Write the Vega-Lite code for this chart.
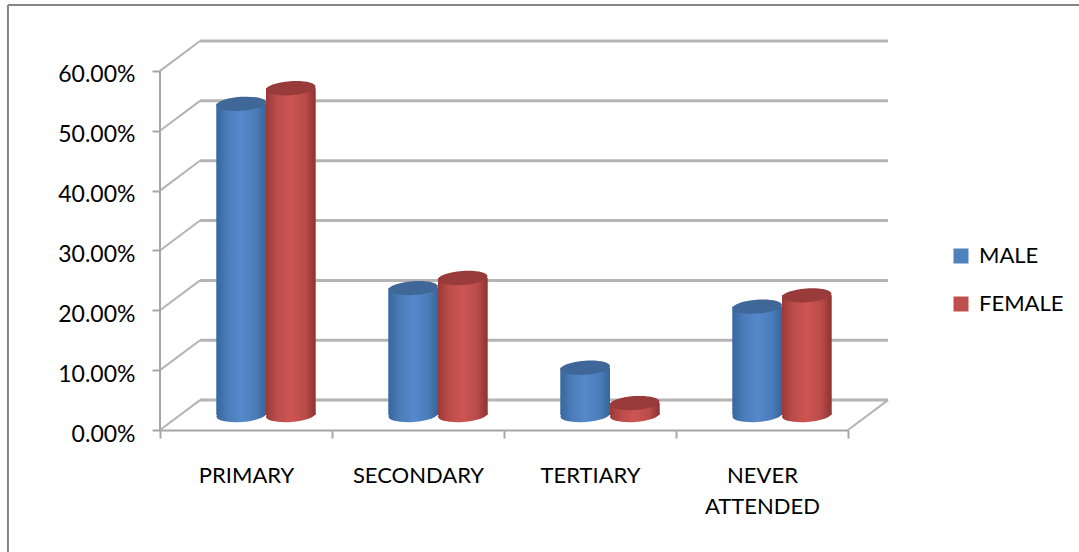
{
  "$schema": "https://vega.github.io/schema/vega-lite/v6.json",
  "width": 728,
  "height": 389,
  "autosize": "none",
  "padding": {"left": 160, "top": 41, "right": 191, "bottom": 122},
  "background": "white",
  "view": {"stroke": null},
  "config": {"font": "Lato", "axis": {"grid": false}},
  "datasets": {
    "schooling": [
      {"level": "PRIMARY", "sex": "MALE", "share": 0.52},
      {"level": "PRIMARY", "sex": "FEMALE", "share": 0.546},
      {"level": "SECONDARY", "sex": "MALE", "share": 0.212},
      {"level": "SECONDARY", "sex": "FEMALE", "share": 0.229},
      {"level": "TERTIARY", "sex": "MALE", "share": 0.079},
      {"level": "TERTIARY", "sex": "FEMALE", "share": 0.02},
      {"level": "NEVER ATTENDED", "sex": "MALE", "share": 0.181},
      {"level": "NEVER ATTENDED", "sex": "FEMALE", "share": 0.2}
    ],
    "walls": [
      {"front": 0, "back": 0.05},
      {"front": 0.1, "back": 0.15},
      {"front": 0.2, "back": 0.25},
      {"front": 0.3, "back": 0.35},
      {"front": 0.4, "back": 0.45},
      {"front": 0.5, "back": 0.55},
      {"front": 0.6, "back": 0.65}
    ],
    "one": [{}]
  },
  "resolve": {"scale": {"x": "independent", "y": "independent"}},
  "layer": [
    {
      "description": "Chart frame, back wall grid, side wall diagonals and floor edge, on the front plane's scales",
      "layer": [
        {
          "data": {"name": "one"},
          "mark": {"type": "rule", "color": "#868686", "strokeWidth": 2},
          "encoding": {
            "x": {"datum": -0.884, "type": "quantitative", "scale": {"domain": [0, 4.2326], "range": [0, 728], "nice": false, "zero": false}, "axis": null},
            "y": {
              "datum": 0.71,
              "type": "quantitative",
              "scale": {"domain": [0, 0.65], "nice": false},
              "axis": {
                "title": null,
                "values": [0, 0.1, 0.2, 0.3, 0.4, 0.5, 0.6],
                "format": ".2%",
                "domain": false,
                "tickColor": "#a6a6a6",
                "tickWidth": 2,
                "tickSize": 8,
                "labelFontSize": 23,
                "labelColor": "#000000",
                "labelPadding": 17,
                "labelOffset": 4
              }
            },
            "y2": {"datum": -0.204}
          }
        },
        {
          "data": {"name": "one"},
          "mark": {"type": "rule", "color": "#868686", "strokeWidth": 2},
          "encoding": {
            "x": {"datum": -0.884, "type": "quantitative"},
            "x2": {"datum": 5.343},
            "y": {"datum": 0.71, "type": "quantitative"}
          }
        },
        {
          "data": {"name": "walls"},
          "mark": {"type": "rule", "color": "#b4b4b4", "strokeWidth": 3},
          "encoding": {
            "x": {"datum": 0.2326, "type": "quantitative"},
            "x2": {"datum": 4.2326},
            "y": {"field": "back", "type": "quantitative"}
          }
        },
        {
          "data": {"name": "walls"},
          "mark": {"type": "rule", "color": "#b4b4b4", "strokeWidth": 2},
          "encoding": {
            "x": {"datum": 0, "type": "quantitative"},
            "x2": {"datum": 0.2326},
            "y": {"field": "front", "type": "quantitative"},
            "y2": {"field": "back"}
          }
        },
        {
          "data": {"name": "one"},
          "mark": {"type": "rule", "color": "#b4b4b4", "strokeWidth": 2},
          "encoding": {
            "x": {"datum": 4, "type": "quantitative"},
            "x2": {"datum": 4.2326},
            "y": {"datum": 0, "type": "quantitative"},
            "y2": {"datum": 0.05}
          }
        },
        {
          "data": {"name": "one"},
          "mark": {"type": "rule", "color": "#a6a6a6", "strokeWidth": 2},
          "encoding": {
            "x": {"datum": 0, "type": "quantitative"},
            "y": {"datum": 0, "type": "quantitative"},
            "y2": {"datum": 0.6}
          }
        }
      ]
    },
    {
      "description": "Cylinders stand mid-depth, so their value scale sits 15px above the front plane; a flat base carries the legend, shaded bodies and caps sit on top",
      "data": {"name": "schooling"},
      "encoding": {
        "x": {
          "field": "level",
          "type": "nominal",
          "sort": ["PRIMARY", "SECONDARY", "TERTIARY", "NEVER ATTENDED"],
          "scale": {"range": [0, 688], "paddingInner": 0, "paddingOuter": 0},
          "axis": {
            "title": null,
            "orient": "bottom",
            "tickBand": "extent",
            "tickColor": "#a6a6a6",
            "tickWidth": 2,
            "tickSize": 8,
            "domainColor": "#a6a6a6",
            "domainWidth": 2,
            "labelAngle": 0,
            "labelFontSize": 22,
            "labelColor": "#000000",
            "labelPadding": 27,
            "labelLineHeight": 31,
            "labelBaseline": "top",
            "labelExpr": "datum.label == 'NEVER ATTENDED' ? ['NEVER', 'ATTENDED'] : datum.label"
          }
        },
        "xOffset": {
          "field": "sex",
          "type": "nominal",
          "sort": ["MALE", "FEMALE"],
          "scale": {"range": [56.5, 155.5], "paddingInner": 0, "paddingOuter": 0}
        },
        "y": {
          "field": "share",
          "type": "quantitative",
          "stack": null,
          "scale": {"domain": [0, 0.65], "range": [374, -15], "nice": false},
          "axis": null
        }
      },
      "layer": [
        {
          "transform": [{"filter": "datum.sex == 'MALE'"}],
          "layer": [
            {
              "mark": {"type": "point", "filled": true, "opacity": 1, "size": 2450,
                "shape": "M-1,0.07 A1,0.28 -4 1 1 1,-0.07 A1,0.28 -4 1 1 -1,0.07 Z",
                "fill": {"gradient": "linear", "x1": 0, "x2": 1, "y1": 0, "y2": 0, "stops": [
                  {"offset": 0, "color": "#38679f"}, {"offset": 0.22, "color": "#4a7cb8"},
                  {"offset": 0.5, "color": "#5689cb"}, {"offset": 0.8, "color": "#4a7cb8"},
                  {"offset": 1, "color": "#38659b"}]}},
              "encoding": {"y": {"datum": 0, "type": "quantitative"}}
            },
            {
              "mark": {"type": "bar"},
              "encoding": {
                "color": {
                  "field": "sex",
                  "type": "nominal",
                  "sort": ["MALE", "FEMALE"],
                  "scale": {"domain": ["MALE", "FEMALE"], "range": ["#4f81bd", "#c0504d"]},
                  "legend": {
                    "title": null,
                    "orient": "none",
                    "legendX": 790,
                    "legendY": 204,
                    "symbolType": "square",
                    "symbolSize": 225,
                    "symbolStrokeWidth": 0,
                    "labelFontSize": 22,
                    "labelColor": "#000000",
                    "labelOffset": 7,
                    "rowPadding": 26
                  }
                }
              }
            },
            {
              "mark": {"type": "bar",
                "fill": {"gradient": "linear", "x1": 0, "x2": 1, "y1": 0, "y2": 0, "stops": [
                  {"offset": 0, "color": "#38679f"}, {"offset": 0.22, "color": "#4a7cb8"},
                  {"offset": 0.5, "color": "#5689cb"}, {"offset": 0.8, "color": "#4a7cb8"},
                  {"offset": 1, "color": "#38659b"}]}}
            },
            {
              "mark": {"type": "point", "filled": true, "opacity": 1, "size": 2450,
                "shape": "M-1,0.07 A1,0.28 -4 1 1 1,-0.07 A1,0.28 -4 1 1 -1,0.07 Z",
                "fill": "#3f6898"}
            }
          ]
        },
        {
          "transform": [{"filter": "datum.sex == 'FEMALE'"}],
          "layer": [
            {
              "mark": {"type": "point", "filled": true, "opacity": 1, "size": 2450,
                "shape": "M-1,0.07 A1,0.28 -4 1 1 1,-0.07 A1,0.28 -4 1 1 -1,0.07 Z",
                "fill": {"gradient": "linear", "x1": 0, "x2": 1, "y1": 0, "y2": 0, "stops": [
                  {"offset": 0, "color": "#9a3a38"}, {"offset": 0.22, "color": "#bb4c4a"},
                  {"offset": 0.5, "color": "#cd5553"}, {"offset": 0.8, "color": "#b84b49"},
                  {"offset": 1, "color": "#8e3331"}]}},
              "encoding": {"y": {"datum": 0, "type": "quantitative"}}
            },
            {
              "mark": {"type": "bar"},
              "encoding": {
                "color": {
                  "field": "sex",
                  "type": "nominal",
                  "sort": ["MALE", "FEMALE"],
                  "scale": {"domain": ["MALE", "FEMALE"], "range": ["#4f81bd", "#c0504d"]},
                  "legend": {
                    "title": null,
                    "orient": "none",
                    "legendX": 790,
                    "legendY": 204,
                    "symbolType": "square",
                    "symbolSize": 225,
                    "symbolStrokeWidth": 0,
                    "labelFontSize": 22,
                    "labelColor": "#000000",
                    "labelOffset": 7,
                    "rowPadding": 26
                  }
                }
              }
            },
            {
              "mark": {"type": "bar",
                "fill": {"gradient": "linear", "x1": 0, "x2": 1, "y1": 0, "y2": 0, "stops": [
                  {"offset": 0, "color": "#9a3a38"}, {"offset": 0.22, "color": "#bb4c4a"},
                  {"offset": 0.5, "color": "#cd5553"}, {"offset": 0.8, "color": "#b84b49"},
                  {"offset": 1, "color": "#8e3331"}]}}
            },
            {
              "mark": {"type": "point", "filled": true, "opacity": 1, "size": 2450,
                "shape": "M-1,0.07 A1,0.28 -4 1 1 1,-0.07 A1,0.28 -4 1 1 -1,0.07 Z",
                "fill": "#983b3a"}
            }
          ]
        }
      ]
    }
  ]
}
